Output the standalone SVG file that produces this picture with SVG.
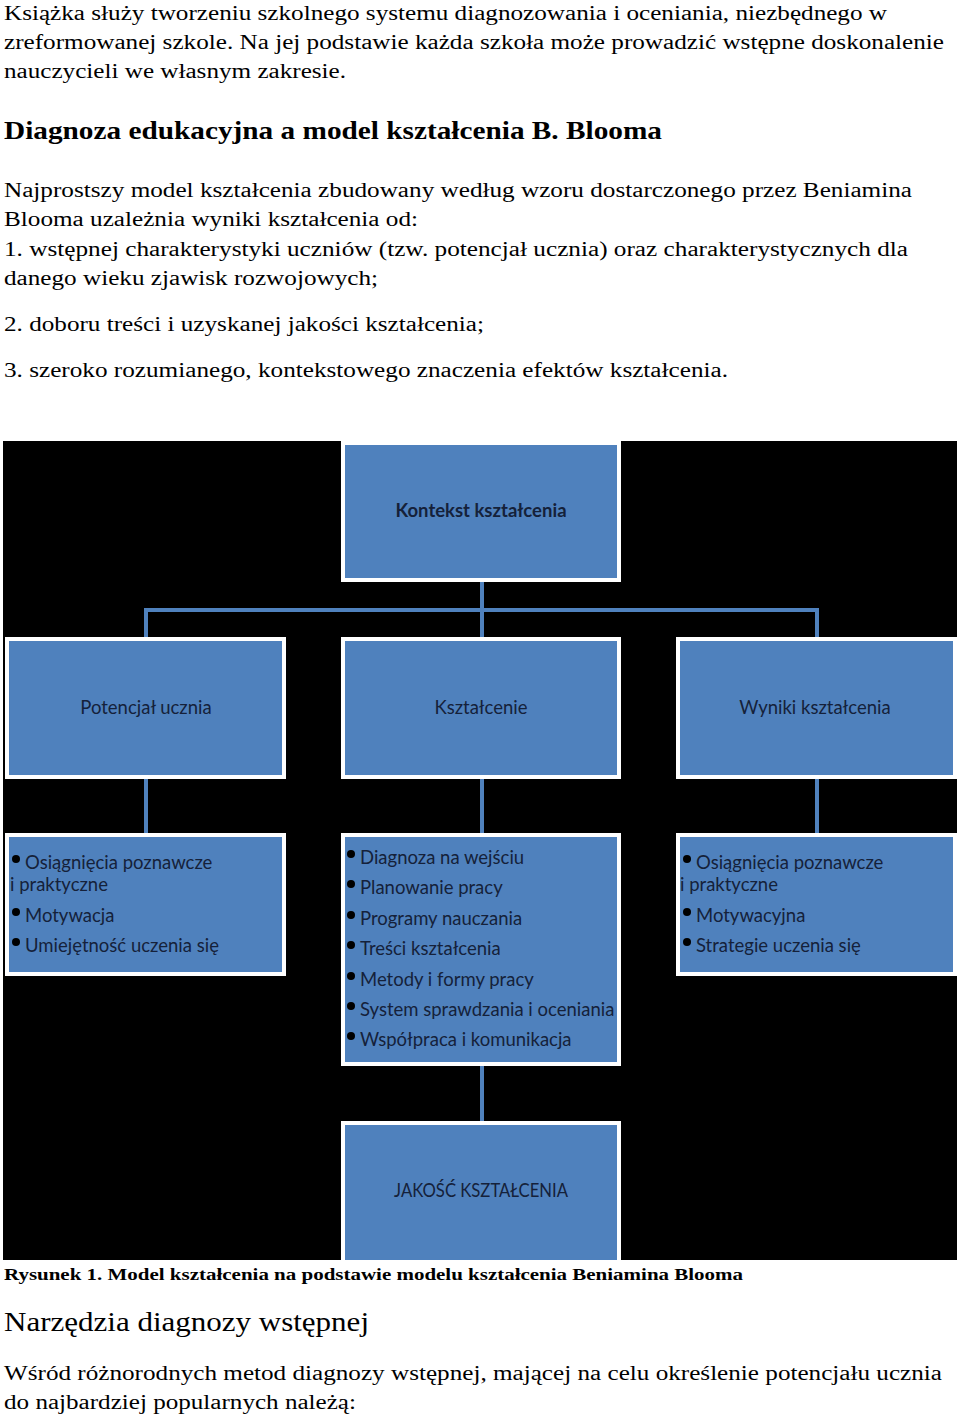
<svg xmlns="http://www.w3.org/2000/svg" width="960" height="1415" viewBox="0 0 960 1415">
<style>
.p{font-family:'Liberation Serif','Times New Roman',Times,serif;font-size:20.5px;fill:#000}
.h{font-family:'Liberation Serif','Times New Roman',Times,serif;font-size:25px;font-weight:bold;fill:#000}
.cap{font-family:'Liberation Serif','Times New Roman',Times,serif;font-size:17.5px;font-weight:bold;fill:#000}
.h2{font-family:'Liberation Serif','Times New Roman',Times,serif;font-size:27px;fill:#000}
.box{fill:#4f81bd;stroke:#fff;stroke-width:4}
.t{font-family:Lato,'Open Sans','Liberation Sans',sans-serif;font-size:18.5px;fill:#15213a}
.tc{text-anchor:middle}
.b{font-weight:bold}
.bul{fill:#000}
.con{fill:none;stroke:#4f81bd;stroke-width:4}
</style>
<rect width="960" height="1415" fill="#fff"/>
<g id="text-top">
<text class="p" x="4" y="20" textLength="883" lengthAdjust="spacingAndGlyphs">Książka służy tworzeniu szkolnego systemu diagnozowania i oceniania, niezbędnego w</text>
<text class="p" x="4" y="49" textLength="940" lengthAdjust="spacingAndGlyphs">zreformowanej szkole. Na jej podstawie każda szkoła może prowadzić wstępne doskonalenie</text>
<text class="p" x="4" y="78" textLength="342" lengthAdjust="spacingAndGlyphs">nauczycieli we własnym zakresie.</text>
<text class="h" x="4" y="139" textLength="658" lengthAdjust="spacingAndGlyphs">Diagnoza edukacyjna a model kształcenia B. Blooma</text>
<text class="p" x="4" y="197" textLength="908" lengthAdjust="spacingAndGlyphs">Najprostszy model kształcenia zbudowany według wzoru dostarczonego przez Beniamina</text>
<text class="p" x="4" y="226" textLength="414" lengthAdjust="spacingAndGlyphs">Blooma uzależnia wyniki kształcenia od:</text>
<text class="p" x="4" y="256" textLength="904" lengthAdjust="spacingAndGlyphs">1. wstępnej charakterystyki uczniów (tzw. potencjał ucznia) oraz charakterystycznych dla</text>
<text class="p" x="4" y="285" textLength="374" lengthAdjust="spacingAndGlyphs">danego wieku zjawisk rozwojowych;</text>
<text class="p" x="4" y="331" textLength="480" lengthAdjust="spacingAndGlyphs">2. doboru treści i uzyskanej jakości kształcenia;</text>
<text class="p" x="4" y="377" textLength="724" lengthAdjust="spacingAndGlyphs">3. szeroko rozumianego, kontekstowego znaczenia efektów kształcenia.</text>
</g>
<rect id="background" x="3" y="441" width="954" height="819" fill="#000"/>
<g id="connectors">
<path class="con" d="M482 582 V638 M146 638 V610 H817 V638 M146 779 V833 M482 779 V833 M817 779 V833 M482 1066 V1121"/>
</g>
<g id="kontekst">
<rect class="box" x="343" y="443" width="276" height="137"/>
<text class="t tc b" x="481" y="517">Kontekst kształcenia</text>
</g>
<g id="potencjal">
<rect class="box" x="7" y="639" width="277" height="138"/>
<text class="t tc" x="146" y="714">Potencjał ucznia</text>
</g>
<g id="ksztalcenie">
<rect class="box" x="343" y="639" width="276" height="138"/>
<text class="t tc" x="481" y="714">Kształcenie</text>
</g>
<g id="wyniki">
<rect class="box" x="678" y="639" width="277" height="138"/>
<text class="t tc" x="815" y="714">Wyniki kształcenia</text>
</g>
<g id="potencjal-list">
<rect class="box" x="7" y="835" width="277" height="139"/>
<circle class="bul" cx="16" cy="859" r="4"/>
<text class="t" x="25" y="869">Osiągnięcia poznawcze</text>
<text class="t" x="10" y="891">i praktyczne</text>
<circle class="bul" cx="16" cy="912" r="4"/>
<text class="t" x="25" y="922">Motywacja</text>
<circle class="bul" cx="16" cy="942" r="4"/>
<text class="t" x="25" y="952">Umiejętność uczenia się</text>
</g>
<g id="ksztalcenie-list">
<rect class="box" x="343" y="835" width="276" height="229"/>
<circle class="bul" cx="351" cy="854" r="4"/>
<text class="t" x="360" y="864">Diagnoza na wejściu</text>
<circle class="bul" cx="351" cy="884" r="4"/>
<text class="t" x="360" y="894">Planowanie pracy</text>
<circle class="bul" cx="351" cy="915" r="4"/>
<text class="t" x="360" y="925">Programy nauczania</text>
<circle class="bul" cx="351" cy="945" r="4"/>
<text class="t" x="360" y="955">Treści kształcenia</text>
<circle class="bul" cx="351" cy="976" r="4"/>
<text class="t" x="360" y="986">Metody i formy pracy</text>
<circle class="bul" cx="351" cy="1006" r="4"/>
<text class="t" x="360" y="1016">System sprawdzania i oceniania</text>
<circle class="bul" cx="351" cy="1036" r="4"/>
<text class="t" x="360" y="1046">Współpraca i komunikacja</text>
</g>
<g id="wyniki-list">
<rect class="box" x="678" y="835" width="277" height="139"/>
<circle class="bul" cx="687" cy="859" r="4"/>
<text class="t" x="696" y="869">Osiągnięcia poznawcze</text>
<text class="t" x="680" y="891">i praktyczne</text>
<circle class="bul" cx="687" cy="912" r="4"/>
<text class="t" x="696" y="922">Motywacyjna</text>
<circle class="bul" cx="687" cy="942" r="4"/>
<text class="t" x="696" y="952">Strategie uczenia się</text>
</g>
<g id="jakosc">
<rect class="box" x="343" y="1123" width="276" height="139"/>
<text class="t tc" x="481" y="1197" textLength="174" lengthAdjust="spacingAndGlyphs">JAKOŚĆ KSZTAŁCENIA</text>
</g>
<g id="text-bottom">
<text class="cap" x="4" y="1280" textLength="739" lengthAdjust="spacingAndGlyphs">Rysunek 1. Model kształcenia na podstawie modelu kształcenia Beniamina Blooma</text>
<text class="h2" x="4" y="1331" textLength="365" lengthAdjust="spacingAndGlyphs">Narzędzia diagnozy wstępnej</text>
<text class="p" x="4" y="1380" textLength="938" lengthAdjust="spacingAndGlyphs">Wśród różnorodnych metod diagnozy wstępnej, mającej na celu określenie potencjału ucznia</text>
<text class="p" x="4" y="1409" textLength="352" lengthAdjust="spacingAndGlyphs">do najbardziej popularnych należą:</text>
</g>
</svg>
